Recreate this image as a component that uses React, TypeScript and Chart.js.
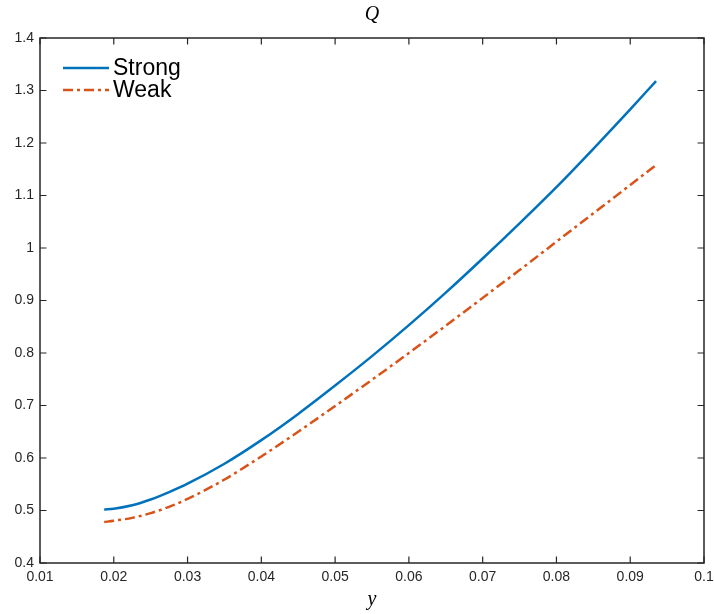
import React, { useEffect, useRef } from "react";
import { Chart, registerables } from "chart.js";

Chart.register(...registerables);

// ---- data ----
const xValues = [0.0187, 0.02, 0.0225, 0.025, 0.0275, 0.03, 0.035, 0.04, 0.045, 0.05, 0.055, 0.06, 0.065, 0.07, 0.075, 0.08, 0.085, 0.09, 0.0935];
const strongValues = [0.502, 0.5035, 0.51, 0.521, 0.535, 0.551, 0.589, 0.634, 0.684, 0.738, 0.794, 0.853, 0.915, 0.98, 1.047, 1.116, 1.189, 1.264, 1.318];
const weakValues = [0.478, 0.4805, 0.486, 0.495, 0.507, 0.522, 0.559, 0.603, 0.65, 0.699, 0.749, 0.8, 0.852, 0.905, 0.958, 1.012, 1.066, 1.12, 1.158];
const seriesNames = ["Strong", "Weak"];
const xTickValues = [0.01, 0.02, 0.03, 0.04, 0.05, 0.06, 0.07, 0.08, 0.09, 0.1];
const xTickLabels = ["0.01", "0.02", "0.03", "0.04", "0.05", "0.06", "0.07", "0.08", "0.09", "0.1"];
const yTickValues = [0.4, 0.5, 0.6, 0.7, 0.8, 0.9, 1, 1.1, 1.2, 1.3, 1.4];
const yTickLabels = ["0.4", "0.5", "0.6", "0.7", "0.8", "0.9", "1", "1.1", "1.2", "1.3", "1.4"];
const titleText = "Q";
const xTitleText = "y";

const AXIS_COLOR = "#262626";
const SANS = "'Liberation Sans', Arial, Helvetica, sans-serif";
const SERIF = "'Liberation Serif', 'Times New Roman', serif";

const framePlugin = {
  id: "matlabFrame",
  afterDatasetsDraw(chart: any) {
    const { ctx, chartArea, scales } = chart;
    const { left, right, top, bottom } = chartArea;
    const xs = scales.x;
    const ys = scales.y;
    ctx.save();
    ctx.strokeStyle = AXIS_COLOR;
    ctx.lineWidth = 1.5;
    ctx.setLineDash([]);
    ctx.strokeRect(left, top, right - left, bottom - top);
    const tl = 6.5;
    ctx.lineWidth = 1.2;
    ctx.beginPath();
    xTickValues.forEach((v) => {
      const px = xs.getPixelForValue(v);
      ctx.moveTo(px, bottom);
      ctx.lineTo(px, bottom - tl);
      ctx.moveTo(px, top);
      ctx.lineTo(px, top + tl);
    });
    yTickValues.forEach((v) => {
      const py = ys.getPixelForValue(v);
      ctx.moveTo(left, py);
      ctx.lineTo(left + tl, py);
      ctx.moveTo(right, py);
      ctx.lineTo(right - tl, py);
    });
    ctx.stroke();

    // legend (inside, top-left, no box)
    const lx0 = left + 23;
    const lx1 = left + 69;
    const tx = left + 73;
    const rows = [top + 30, top + 52];
    ctx.font = `23px ${SANS}`;
    ctx.textBaseline = "middle";
    ctx.textAlign = "left";
    chart.data.datasets.forEach((ds: any, i: number) => {
      const yy = rows[i];
      ctx.strokeStyle = ds.borderColor;
      ctx.lineWidth = ds.borderWidth;
      ctx.setLineDash(ds.borderDash || []);
      ctx.beginPath();
      ctx.moveTo(lx0, yy);
      ctx.lineTo(lx1, yy);
      ctx.stroke();
      ctx.setLineDash([]);
      ctx.fillStyle = "#000";
      ctx.fillText(ds.label, tx, yy + 1);
    });
    ctx.restore();
  },
};

export default function App() {
  const canvasRef = useRef<HTMLCanvasElement | null>(null);

  useEffect(() => {
    if (!canvasRef.current) return;
    const toPoints = (ys: number[]) => xValues.map((x, i) => ({ x, y: ys[i] }));
    const chart = new Chart(canvasRef.current, {
      type: "line",
      data: {
        datasets: [
          {
            label: seriesNames[0],
            data: toPoints(strongValues),
            borderColor: "#0072BD",
            borderWidth: 2.5,
            pointRadius: 0,
            cubicInterpolationMode: "monotone",
            fill: false,
          },
          {
            label: seriesNames[1],
            data: toPoints(weakValues),
            borderColor: "#D95319",
            borderWidth: 2.5,
            borderDash: [10, 4, 3, 4],
            pointRadius: 0,
            cubicInterpolationMode: "monotone",
            fill: false,
          },
        ],
      },
      options: {
        animation: false,
        responsive: false,
        maintainAspectRatio: false,
        events: [],
        layout: { padding: { left: 0, right: 10, top: 0, bottom: 0 } },
        plugins: {
          legend: { display: false },
          tooltip: { enabled: false },
          title: {
            display: true,
            fullSize: false,
            text: titleText,
            color: "#000",
            font: { family: SERIF, style: "italic", size: 20, weight: "normal", lineHeight: 1.2 },
            padding: { top: 3, bottom: 11 },
          },
        },
        scales: {
          x: {
            type: "linear",
            min: 0.01,
            max: 0.1,
            grid: { display: false, drawTicks: false },
            border: { display: false },
            afterBuildTicks: (s: any) => {
              s.ticks = xTickValues.map((v) => ({ value: v }));
            },
            afterFit: (s: any) => {
              s.height = 51;
              s.paddingRight = 0;
              s.paddingLeft = 0;
            },
            ticks: {
              padding: 6,
              color: AXIS_COLOR,
              font: { family: SANS, size: 14 },
              maxRotation: 0,
              autoSkip: false,
              callback: (_v: any, i: number) => xTickLabels[i],
            },
            title: {
              display: true,
              text: xTitleText,
              color: "#000",
              font: { family: SERIF, style: "italic", size: 20, lineHeight: 1.2 },
              padding: { top: 0, bottom: 2 },
            },
          },
          y: {
            type: "linear",
            min: 0.4,
            max: 1.4,
            grid: { display: false, drawTicks: false },
            border: { display: false },
            afterBuildTicks: (s: any) => {
              s.ticks = yTickValues.map((v) => ({ value: v }));
            },
            afterFit: (s: any) => {
              s.width = 40;
              s.paddingTop = 0;
              s.paddingBottom = 0;
            },
            ticks: {
              padding: 6,
              color: AXIS_COLOR,
              font: { family: SANS, size: 14 },
              autoSkip: false,
              callback: (_v: any, i: number) => yTickLabels[i],
            },
          },
        },
      },
      plugins: [framePlugin],
    } as any);
    return () => chart.destroy();
  }, []);

  return (
    <div style={{ position: "fixed", left: 0, top: 0, width: 714, height: 614, background: "#fff" }}>
      <canvas ref={canvasRef} width={714} height={614} style={{ display: "block" }} />
    </div>
  );
}
